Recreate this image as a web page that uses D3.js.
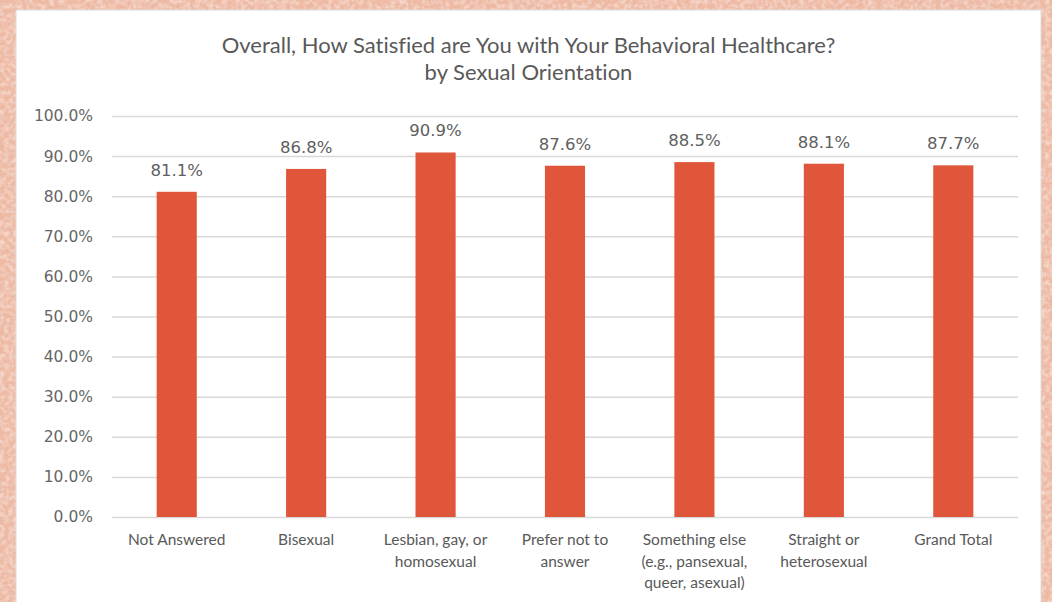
<!DOCTYPE html>
<html>
<head>
<meta charset="utf-8">
<script src="https://cdn.jsdelivr.net/npm/d3@7"></script>
<style>
  html, body { margin: 0; padding: 0; background: #f2c4b1; }
  svg { display: block; }
  text { font-variant-ligatures: none; font-feature-settings: "liga" 0; }
</style>
</head>
<body>
<svg id="chart" width="1052" height="602"></svg>
<script>
// Satisfaction share by sexual orientation
const categories = [
  ["Not Answered"],
  ["Bisexual"],
  ["Lesbian, gay, or", "homosexual"],
  ["Prefer not to", "answer"],
  ["Something else", "(e.g., pansexual,", "queer, asexual)"],
  ["Straight or", "heterosexual"],
  ["Grand Total"]
];
const values = [81.1, 86.8, 90.9, 87.6, 88.5, 88.1, 87.7];
const yTicks = [0, 10, 20, 30, 40, 50, 60, 70, 80, 90, 100];
const titleLines = [
  "Overall, How Satisfied are You with Your Behavioral Healthcare?",
  "by Sexual Orientation"
];

const W = 1052, H = 602;
const svg = d3.select("#chart");

// Paper-like textured backdrop: fine grain over a peach base
const defs = svg.append("defs");
const f = defs.append("filter").attr("id", "paper")
  .attr("x", 0).attr("y", 0).attr("width", "100%").attr("height", "100%");
f.append("feTurbulence").attr("type", "fractalNoise")
  .attr("baseFrequency", "0.22").attr("numOctaves", 3).attr("seed", 5).attr("result", "noise");
f.append("feColorMatrix").attr("in", "noise").attr("type", "matrix")
  .attr("values", "0 0 0 0 0.99  0 0 0 0 0.86  0 0 0 0 0.80  -1.2 0 0 0 0.75")
  .attr("result", "light");
f.append("feComposite").attr("in", "light").attr("in2", "SourceGraphic").attr("operator", "over");

svg.append("rect").attr("width", W).attr("height", H).attr("fill", "#edb9a3")
  .attr("filter", "url(#paper)");

// White chart panel
const panel = { x: 16, y: 10, w: 1025, h: 600 };
svg.append("rect")
  .attr("x", panel.x).attr("y", panel.y).attr("width", panel.w).attr("height", panel.h)
  .attr("fill", "#ffffff").attr("stroke", "#dcdcdc").attr("stroke-width", 1);

const plot = { left: 112, right: 1018, top: 116, bottom: 517 };

const x = d3.scaleBand()
  .domain(d3.range(categories.length))
  .range([plot.left, plot.right])
  .paddingInner(0.69).paddingOuter(0.345);

const y = d3.scaleLinear().domain([0, 100]).range([plot.bottom, plot.top]);

// Title
svg.append("g").selectAll("text").data(titleLines).join("text")
  .attr("x", (panel.x + panel.x + panel.w) / 2)
  .attr("y", (d, i) => 53 + i * 27)
  .attr("text-anchor", "middle")
  .attr("font-family", "Lato, 'Open Sans', sans-serif")
  .attr("font-size", 22)
  .attr("fill", "#595959")
  .text(d => d);

// Gridlines and y tick labels
const yAxis = d3.axisLeft(y)
  .tickValues(yTicks)
  .tickSize(-(plot.right - plot.left))
  .tickPadding(19)
  .tickFormat(d => d.toFixed(1) + "%");

const gy = svg.append("g")
  .attr("transform", `translate(${plot.left},0)`)
  .call(yAxis);
gy.select(".domain").remove();
gy.selectAll(".tick line").attr("stroke", "#d9d9d9").attr("stroke-width", 1.5);
gy.selectAll(".tick text")
  .attr("font-family", "'DejaVu Sans', Verdana, sans-serif")
  .attr("font-size", 15.5)
  .attr("fill", "#666666");

// Bars
svg.append("g").selectAll("rect").data(values).join("rect")
  .attr("x", (d, i) => x(i))
  .attr("y", d => y(d))
  .attr("width", x.bandwidth())
  .attr("height", d => y(0) - y(d))
  .attr("fill", "#e0563b");

// Value labels
svg.append("g").selectAll("text").data(values).join("text")
  .attr("x", (d, i) => x(i) + x.bandwidth() / 2)
  .attr("y", d => y(d) - 16)
  .attr("text-anchor", "middle")
  .attr("font-family", "'DejaVu Sans', Verdana, sans-serif")
  .attr("font-size", 16.5)
  .attr("fill", "#606060")
  .text(d => d.toFixed(1) + "%");

// Category labels
const xAxis = d3.axisBottom(x).tickSize(0).tickFormat("");
const gx = svg.append("g")
  .attr("transform", `translate(0,${plot.bottom})`)
  .call(xAxis);
gx.select(".domain").remove();

const labels = svg.append("g").selectAll("text").data(categories).join("text")
  .attr("x", (d, i) => x(i) + x.bandwidth() / 2)
  .attr("y", 545)
  .attr("text-anchor", "middle")
  .attr("font-family", "Lato, 'Open Sans', sans-serif")
  .attr("font-size", 15.5)
  .attr("fill", "#595959");
labels.selectAll("tspan").data(d => d).join("tspan")
  .attr("x", function () { return d3.select(this.parentNode).attr("x"); })
  .attr("dy", (d, i) => i === 0 ? 0 : 21.5)
  .text(d => d);
</script>
</body>
</html>
